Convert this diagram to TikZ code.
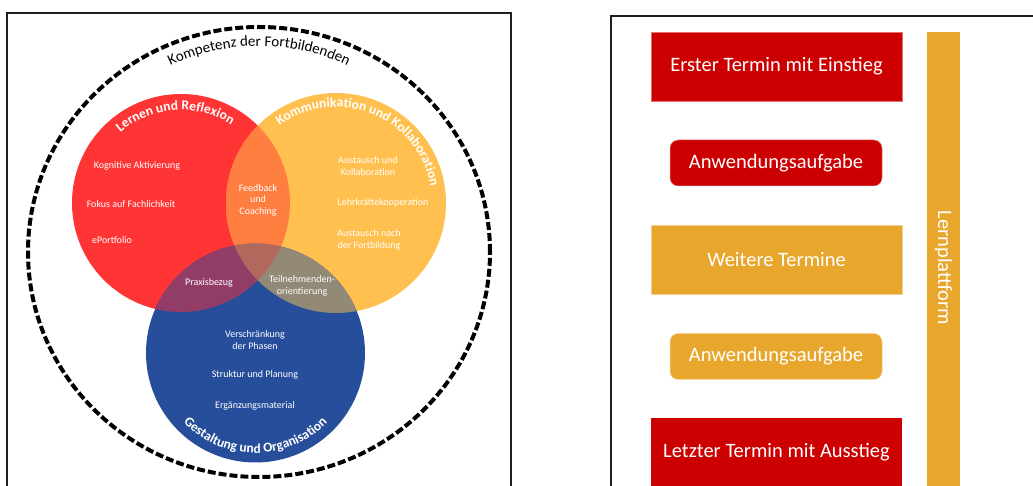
\documentclass[tikz,border=0pt]{standalone}
\usepackage{fontspec}
\setmainfont{Carlito}
\usetikzlibrary{decorations.text,calc}

% circle colours and their overlaps
\definecolor{cred}{RGB}{255,53,53}
\definecolor{corange}{RGB}{255,192,79}
\definecolor{cblue}{RGB}{38,78,155}
\definecolor{credorange}{RGB}{255,127,64}
\definecolor{credblue}{RGB}{146,61,104}
\definecolor{corangeblue}{RGB}{146,137,118}
\definecolor{call}{RGB}{176,105,92}
% timeline colours
\definecolor{tred}{RGB}{204,0,0}
\definecolor{tora}{RGB}{232,167,44}
\definecolor{frameline}{RGB}{30,30,30}

\newcommand\vtitlefont{\fontsize{13.5}{15}\selectfont\bfseries}
\newcommand\vouterfont{\fontsize{15}{17}\selectfont}

\begin{document}
\begin{tikzpicture}[x=1pt,y=1pt,
  frame/.style={draw=frameline, line width=1.6pt},
  small/.style={text=white, align=center, inner sep=0pt,
    font=\fontsize{10}{11.5}\selectfont},
  termin/.style={rectangle, minimum width=251, minimum height=69, inner sep=0pt,
    text=white, font=\fontsize{20.5}{24}\selectfont},
  aufgabe/.style={rectangle, rounded corners=8pt, minimum width=212, minimum height=46,
    inner sep=0pt, text=white, font=\fontsize{20.5}{24}\selectfont},
  rtext/.style={text=white, inner sep=0pt, font=\fontsize{20.5}{24}\selectfont},
  arctitle/.style={decorate, decoration={text along path, text align=center,
    text color=white, text={|\vtitlefont|#1}}},
]
\clip (0,0) rectangle (1033,486);

% ---------------- left panel: competence model ----------------
\draw[frame] (7,-10) rectangle (511,473);

\coordinate (cr) at (181,283);
\coordinate (co) at (336,283);
\coordinate (cb) at (255.5,133);
\coordinate (ck) at (259,234);

\draw[line width=4pt, dash pattern=on 8pt off 3pt] (ck) ellipse[x radius=231, y radius=225];

\fill[cred] (cr) circle[radius=109];
\fill[corange] (co) circle[radius=110];
\fill[cblue] (cb) circle[radius=109.5];
\begin{scope}
  \clip (cr) circle[radius=109];
  \fill[credorange] (co) circle[radius=110];
  \fill[credblue] (cb) circle[radius=109.5];
\end{scope}
\begin{scope}
  \clip (co) circle[radius=110];
  \fill[corangeblue] (cb) circle[radius=109.5];
  \clip (cr) circle[radius=109];
  \fill[call] (cb) circle[radius=109.5];
\end{scope}

% titles along the circles
\path[arctitle={Lernen und Reflexion}] ($(cr)+(164:93)$) arc[start angle=164, end angle=24, radius=93];
\path[arctitle={Kommunikation und Kollaboration}] ($(co)+(150:96)$) arc[start angle=150, end angle=-14, radius=96];
\path[arctitle={Gestaltung und Organisation}] ($(cb)+(200:100)$) arc[start angle=200, end angle=340, radius=100];
\path[decorate, decoration={text along path, text align=center, text color=black,
    text={|\vouterfont|Kompetenz der Fortbildenden}}]
  ($(ck)+(130:206)$) arc[start angle=130, end angle=50, radius=206];

% items inside the circles
\node[small] (kog) at (137,320) {Kognitive Aktivierung};
\node[small] (fok) at (131,282) {Fokus auf Fachlichkeit};
\node[small] (epf) at (112,246) {ePortfolio};
\node[small] (fbc) at (258,286) {Feedback\\und\\Coaching};
\node[small] (aus) at (368,320) {Austausch und\\Kollaboration};
\node[small] (lkk) at (383,283) {Lehrkräftekooperation};
\node[small] (anf) at (369,246) {Austausch nach\\der Fortbildung};
\node[small] (prx) at (209,203) {Praxisbezug};
\node[small] (tno) at (302,200) {Teilnehmenden-\\orientierung};
\node[small] (vdp) at (255,146) {Verschränkung\\der Phasen};
\node[small] (sup) at (255,111) {Struktur und Planung};
\node[small] (erg) at (255,80) {Ergänzungsmaterial};

% ---------------- right panel: course sequence ----------------
\draw[frame] (611,-10) rectangle (1045,470);

\node[termin, fill=tred, draw=tred!55!white, line width=0.5pt] (erster) at (776.5,419.5) {Erster Termin mit Einstieg};
\node[aufgabe, fill=tred, draw=tred!45!white, line width=0.5pt] (aufg1) at (776,323) {Anwendungsaufgabe};
\node[termin, fill=tora, draw=tora!55!white, line width=0.5pt] (weitere) at (776.5,226.5) {Weitere Termine};
\node[aufgabe, fill=tora, draw=tora!45!white, line width=0.5pt] (aufg2) at (776,129.5) {Anwendungsaufgabe};
\fill[tred] (651,-10) rectangle (902,68);
\node[rtext] (letzter) at (776.5,34) {Letzter Termin mit Ausstieg};

\fill[tora] (927,-10) rectangle (960,454);
\node[rtext, rotate=-90] (lern) at (943.5,218) {Lernplattform};
\end{tikzpicture}
\end{document}
